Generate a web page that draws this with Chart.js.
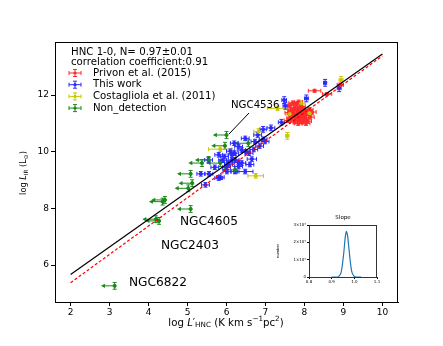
<!DOCTYPE html>
<html>
<head>
<meta charset="utf-8">
<script src="https://cdn.jsdelivr.net/npm/chart.js@4.4.1/dist/chart.umd.min.js"></script>
<style>
  body { margin: 0; background: #fff; }
  #wrap { position: relative; width: 443px; height: 346px; }
  #main { position: absolute; left: 0; top: 0; }
  #inset { position: absolute; left: 270px; top: 210px; }
</style>
</head>
<body>
<div id="wrap">
  <canvas id="main" width="443" height="346"></canvas>
  <canvas id="inset" width="115" height="80"></canvas>
</div>
<script>
"use strict"

// Privon et al. (2015)
const privonX = [8.26, 8.58, 8.92, 7.62, 7.70, 7.78, 7.85, 7.92, 7.68, 7.75, 7.82, 7.90, 7.98, 8.05, 7.72, 7.80, 7.88, 7.95, 8.02, 8.10, 8.15, 7.65, 7.78, 7.86, 7.94, 8.00, 8.08, 7.60, 7.74, 7.84, 8.18, 7.96, 7.70, 8.12, 7.88, 7.58, 8.04];
const privonY = [12.15, 12.04, 12.36, 11.62, 11.72, 11.68, 11.75, 11.60, 11.48, 11.52, 11.45, 11.40, 11.50, 11.42, 11.35, 11.30, 11.25, 11.32, 11.28, 11.35, 11.22, 11.20, 11.15, 11.10, 11.05, 11.15, 11.08, 11.38, 11.05, 11.00, 11.40, 11.18, 11.25, 11.48, 11.55, 11.10, 11.00];
const privonXerr = [0.16, 0.12, 0.08, 0.1, 0.1, 0.12, 0.1, 0.1, 0.1, 0.12, 0.1, 0.1, 0.12, 0.1, 0.1, 0.1, 0.12, 0.1, 0.1, 0.12, 0.1, 0.1, 0.1, 0.1, 0.12, 0.1, 0.1, 0.1, 0.1, 0.1, 0.12, 0.1, 0.1, 0.1, 0.1, 0.1, 0.1];
const privonYerr = [0.05, 0.05, 0.06, 0.07, 0.07, 0.07, 0.07, 0.07, 0.07, 0.07, 0.07, 0.07, 0.07, 0.07, 0.07, 0.07, 0.07, 0.07, 0.07, 0.07, 0.07, 0.07, 0.07, 0.07, 0.07, 0.07, 0.07, 0.07, 0.07, 0.07, 0.07, 0.07, 0.07, 0.07, 0.07, 0.07, 0.07];

// This work
const thisX = [8.53, 8.89, 7.48, 7.51, 8.05, 7.41, 6.94, 7.14, 6.80, 6.48, 6.94, 6.73, 6.99, 6.31, 6.39, 5.95, 6.21, 5.80, 6.14, 6.22, 6.05, 6.31, 6.65, 6.39, 6.31, 6.05, 5.34, 5.55, 5.80, 6.01, 6.22, 6.48, 6.14, 5.46, 5.84, 5.54, 6.58, 6.50, 6.10, 5.90, 6.00, 6.60, 5.70, 6.20, 6.85, 6.70];
const thisY = [12.43, 12.24, 11.82, 11.62, 11.88, 11.04, 10.79, 10.84, 10.59, 10.47, 10.44, 10.36, 10.36, 10.18, 10.06, 9.83, 9.95, 9.89, 9.89, 9.71, 9.60, 9.62, 9.74, 9.60, 9.48, 9.54, 9.22, 9.22, 9.07, 9.30, 9.30, 9.30, 9.71, 8.83, 9.10, 9.71, 9.95, 10.00, 10.02, 9.70, 9.45, 9.55, 9.45, 10.30, 10.20, 10.08];
const thisXerr = [0.04, 0.05, 0.06, 0.06, 0.05, 0.08, 0.08, 0.1, 0.1, 0.1, 0.1, 0.1, 0.1, 0.1, 0.1, 0.1, 0.1, 0.1, 0.1, 0.1, 0.1, 0.1, 0.12, 0.1, 0.1, 0.1, 0.1, 0.1, 0.1, 0.1, 0.1, 0.2, 0.1, 0.1, 0.1, 0.1, 0.1, 0.1, 0.1, 0.1, 0.1, 0.1, 0.1, 0.1, 0.1, 0.1];
const thisYerr = [0.12, 0.12, 0.12, 0.12, 0.12, 0.1, 0.1, 0.1, 0.08, 0.08, 0.08, 0.08, 0.08, 0.08, 0.08, 0.08, 0.08, 0.08, 0.08, 0.08, 0.08, 0.08, 0.08, 0.08, 0.08, 0.08, 0.08, 0.08, 0.08, 0.08, 0.08, 0.08, 0.08, 0.08, 0.08, 0.08, 0.08, 0.08, 0.08, 0.08, 0.08, 0.08, 0.08, 0.08, 0.08, 0.08];

// Costagliola et al. (2011)
const costX = [8.94, 7.31, 7.56, 7.92, 7.62, 8.13, 6.82, 6.75, 5.84];
const costY = [12.53, 11.53, 10.56, 11.71, 11.33, 11.36, 10.71, 9.15, 10.09];
const costXerr = [0.05, 0.25, 0.04, 0.1, 0.1, 0.1, 0.12, 0.2, 0.3];
const costYerr = [0.12, 0.08, 0.12, 0.08, 0.08, 0.08, 0.1, 0.08, 0.08];

// Non_detection (upper limits in x)
const nonX = [6.00, 5.96, 6.56, 5.54, 5.37, 5.84, 6.22, 5.08, 5.12, 5.02, 4.42, 4.36, 5.08, 4.19, 4.27, 3.13];
const nonY = [10.59, 10.21, 10.30, 9.71, 9.60, 9.60, 9.36, 9.22, 8.89, 8.71, 8.30, 8.24, 7.98, 7.62, 7.56, 5.27];
const nonYerr = [0.12, 0.12, 0.12, 0.12, 0.12, 0.12, 0.12, 0.12, 0.12, 0.12, 0.12, 0.12, 0.12, 0.12, 0.12, 0.12];

// fitted line and slope-one line
const fitX = [2, 10];
const fitY = [5.67, 13.45];
const refY = [5.38, 13.38];

const xTicks = [2, 3, 4, 5, 6, 7, 8, 9, 10];
const yTicks = [6, 8, 10, 12];

// inset histogram of the slope
const slopeX = [0.90, 0.92, 0.93, 0.94, 0.945, 0.95, 0.955, 0.96, 0.965, 0.97, 0.975, 0.98, 0.985, 0.99, 1.00, 1.01, 1.03];
const slopeN = [0, 0, 2000, 20000, 50000, 100000, 160000, 230000, 262000, 240000, 180000, 115000, 60000, 25000, 3000, 0, 0];
const slopeXTicks = [0.8, 0.9, 1.0, 1.1];
const slopeYTicks = [0, 100000, 200000, 300000];
const slopeYLabels = ["0", "1\u00d710\u2075", "2\u00d710\u2075", "3\u00d710\u2075"];

const headerLines = ["HNC 1-0, N= 0.97\u00b10.01", "correlation coefficient:0.91"];
const seriesNames = ["Privon et al. (2015)", "This work", "Costagliola et al. (2011)", "Non_detection"];
const seriesColors = ["#ff2a2a", "#2a2aff", "#c8c800", "#1a8a1a"];

const FONT = "'DejaVu Sans', sans-serif";
const ARROW_LEN = 0.35;

function toPoints(xs, ys) {
  return xs.map((x, i) => ({ x: x, y: ys[i] }));
}

function drawRich(ctx, parts, cx, cy) {
  let w = 0;
  parts.forEach(p => { ctx.font = p.font; w += ctx.measureText(p.t).width; });
  let x = cx - w / 2;
  parts.forEach(p => {
    ctx.font = p.font;
    ctx.fillText(p.t, x, cy + (p.dy || 0));
    x += ctx.measureText(p.t).width;
  });
}

function errCross(ctx, px, py, x0, x1, y0, y1) {
  const c = 2;
  ctx.beginPath();
  ctx.moveTo(x0, py); ctx.lineTo(x1, py);
  ctx.moveTo(x0, py - c); ctx.lineTo(x0, py + c);
  ctx.moveTo(x1, py - c); ctx.lineTo(x1, py + c);
  ctx.moveTo(px, y0); ctx.lineTo(px, y1);
  ctx.moveTo(px - c, y0); ctx.lineTo(px + c, y0);
  ctx.moveTo(px - c, y1); ctx.lineTo(px + c, y1);
  ctx.stroke();
}

const errorBars = {
  id: 'errorBars',
  beforeDatasetsDraw(chart) {
    const { ctx, chartArea, scales: { x, y } } = chart;
    ctx.save();
    ctx.beginPath();
    ctx.rect(chartArea.left, chartArea.top, chartArea.width, chartArea.height);
    ctx.clip();
    ctx.lineWidth = 1;
    chart.data.datasets.forEach(ds => {
      if (!ds.yerr) return;
      ctx.strokeStyle = ds.borderColor;
      ctx.fillStyle = ds.borderColor;
      ds.data.forEach((p, i) => {
        const px = x.getPixelForValue(p.x);
        const py = y.getPixelForValue(p.y);
        const y0 = y.getPixelForValue(p.y - ds.yerr[i]);
        const y1 = y.getPixelForValue(p.y + ds.yerr[i]);
        if (ds.upperLimit) {
          const xa = x.getPixelForValue(p.x - ARROW_LEN);
          errCross(ctx, px, py, px, px, y0, y1);
          ctx.beginPath();
          ctx.moveTo(px, py); ctx.lineTo(xa + 3, py);
          ctx.stroke();
          ctx.beginPath();
          ctx.moveTo(xa, py); ctx.lineTo(xa + 4, py - 2.2); ctx.lineTo(xa + 4, py + 2.2);
          ctx.closePath();
          ctx.fill();
        } else {
          const x0 = x.getPixelForValue(p.x - ds.xerr[i]);
          const x1 = x.getPixelForValue(p.x + ds.xerr[i]);
          errCross(ctx, px, py, x0, x1, y0, y1);
        }
      });
    });
    ctx.restore();
  }
};

const decorations = {
  id: 'decorations',
  afterDraw(chart) {
    const { ctx, chartArea } = chart;
    ctx.save();
    // frame
    ctx.strokeStyle = '#000';
    ctx.lineWidth = 1;
    ctx.strokeRect(chartArea.left + 0.5, chartArea.top + 0.5, chartArea.width - 1, chartArea.height);

    ctx.fillStyle = '#000';
    ctx.textBaseline = 'middle';
    ctx.textAlign = 'left';
    // legend header
    ctx.font = `10.2px ${FONT}`;
    ctx.fillText(headerLines[0], 71, 52);
    ctx.fillText(headerLines[1], 71, 62);
    // legend entries
    seriesNames.forEach((name, i) => {
      const ly = 73 + i * 11.7;
      ctx.strokeStyle = seriesColors[i];
      ctx.fillStyle = seriesColors[i];
      ctx.lineWidth = 1;
      errCross(ctx, 75, ly, 69, 81, ly - 3.5, ly + 3.5);
      ctx.beginPath();
      ctx.arc(75, ly, 1.6, 0, Math.PI * 2);
      ctx.fill();
      ctx.fillStyle = '#000';
      ctx.fillText(name, 93, ly);
    });

    // annotations
    ctx.font = `10.2px ${FONT}`;
    ctx.fillText("NGC4536", 231, 105);
    ctx.strokeStyle = '#000';
    ctx.lineWidth = 1;
    ctx.beginPath();
    ctx.moveTo(249, 113); ctx.lineTo(229, 134);
    ctx.stroke();
    ctx.font = `12.2px ${FONT}`;
    ctx.fillText("NGC4605", 180, 222);
    ctx.fillText("NGC2403", 161, 246);
    ctx.fillText("NGC6822", 129, 283);

    // axis titles
    ctx.textAlign = 'left';
    const big = `10.2px ${FONT}`;
    const bigIt = `italic 10.2px ${FONT}`;
    const small = `7.2px ${FONT}`;
    drawRich(ctx, [
      { t: "log ", font: big },
      { t: "L", font: bigIt },
      { t: "\u2032", font: big },
      { t: "HNC", font: small, dy: 2.5 },
      { t: " (K km s", font: big },
      { t: "\u22121", font: small, dy: -3.5 },
      { t: "pc", font: big },
      { t: "2", font: small, dy: -3.5 },
      { t: ")", font: big }
    ], 226, 323);
    const yBig = `8.2px ${FONT}`;
    const yBigIt = `italic 8.2px ${FONT}`;
    const ySmall = `5.8px ${FONT}`;
    ctx.translate(24, 173);
    ctx.rotate(-Math.PI / 2);
    drawRich(ctx, [
      { t: "log ", font: yBig },
      { t: "L", font: yBigIt },
      { t: "IR", font: ySmall, dy: 2 },
      { t: " (L", font: yBig },
      { t: "\u2299", font: ySmall, dy: 2 },
      { t: ")", font: yBig }
    ], 0, 0);
    ctx.restore();
  }
};

const tickFont = { family: FONT, size: 9 };

new Chart(document.getElementById('main'), {
  type: 'scatter',
  data: {
    datasets: [
      {
        label: seriesNames[3],
        data: toPoints(nonX, nonY),
        yerr: nonYerr,
        upperLimit: true,
        borderColor: seriesColors[3],
        backgroundColor: seriesColors[3],
        pointRadius: 1.6,
        order: 1
      },
      {
        label: seriesNames[2],
        data: toPoints(costX, costY),
        xerr: costXerr,
        yerr: costYerr,
        borderColor: seriesColors[2],
        backgroundColor: seriesColors[2],
        pointRadius: 1.6,
        order: 2
      },
      {
        label: seriesNames[1],
        data: toPoints(thisX, thisY),
        xerr: thisXerr,
        yerr: thisYerr,
        borderColor: seriesColors[1],
        backgroundColor: seriesColors[1],
        pointRadius: 1.6,
        order: 3
      },
      {
        label: seriesNames[0],
        data: toPoints(privonX, privonY),
        xerr: privonXerr,
        yerr: privonYerr,
        borderColor: seriesColors[0],
        backgroundColor: seriesColors[0],
        pointRadius: 1.6,
        order: 4
      },
      {
        label: 'fit',
        type: 'line',
        data: toPoints(fitX, fitY),
        borderColor: '#000',
        borderWidth: 1.2,
        pointRadius: 0,
        order: 0
      },
      {
        label: 'slope 1',
        type: 'line',
        data: toPoints(fitX, refY),
        borderColor: '#ff0000',
        borderWidth: 1.2,
        borderDash: [3, 2],
        pointRadius: 0,
        order: 0
      }
    ]
  },
  options: {
    responsive: false,
    animation: false,
    layout: { padding: { left: 0, right: 45, top: 42, bottom: 0 } },
    plugins: { legend: { display: false }, tooltip: { enabled: false } },
    scales: {
      x: {
        type: 'linear',
        min: 1.6,
        max: 10.4,
        afterBuildTicks: s => { s.ticks = xTicks.map(v => ({ value: v })); },
        afterFit: s => { s.height = 44; },
        ticks: { font: tickFont, color: '#000', padding: 1 },
        grid: { drawOnChartArea: false, tickLength: 4, tickColor: '#000' },
        border: { color: '#000' }
      },
      y: {
        type: 'linear',
        min: 4.7,
        max: 13.87,
        afterBuildTicks: s => { s.ticks = yTicks.map(v => ({ value: v })); },
        afterFit: s => { s.width = 55; },
        ticks: { font: tickFont, color: '#000', padding: 2 },
        grid: { drawOnChartArea: false, tickLength: 4, tickColor: '#000' },
        border: { color: '#000' }
      }
    }
  },
  plugins: [errorBars, decorations]
});

const insetDecor = {
  id: 'insetDecor',
  afterDraw(chart) {
    const { ctx, chartArea } = chart;
    ctx.save();
    ctx.strokeStyle = '#333';
    ctx.lineWidth = 1;
    ctx.strokeRect(chartArea.left + 0.5, chartArea.top + 0.5, chartArea.width - 1, chartArea.height);
    ctx.fillStyle = '#000';
    ctx.textAlign = 'center';
    ctx.textBaseline = 'middle';
    ctx.font = `5.5px ${FONT}`;
    ctx.fillText("Slope", (chartArea.left + chartArea.right) / 2, 8);
    ctx.font = `3.6px ${FONT}`;
    ctx.translate(8, (chartArea.top + chartArea.bottom) / 2);
    ctx.rotate(-Math.PI / 2);
    ctx.fillText("number", 0, 0);
    ctx.restore();
  }
};

const insetTickFont = { family: FONT, size: 4 };

new Chart(document.getElementById('inset'), {
  type: 'line',
  data: {
    datasets: [{
      data: toPoints(slopeX, slopeN),
      borderColor: '#1f77b4',
      borderWidth: 1.2,
      pointRadius: 0,
      tension: 0.3
    }]
  },
  options: {
    responsive: false,
    animation: false,
    layout: { padding: { left: 0, right: 8, top: 15, bottom: 0 } },
    plugins: { legend: { display: false }, tooltip: { enabled: false } },
    scales: {
      x: {
        type: 'linear',
        min: 0.8,
        max: 1.1,
        afterBuildTicks: s => { s.ticks = slopeXTicks.map(v => ({ value: v })); },
        afterFit: s => { s.height = 13; },
        ticks: { font: insetTickFont, color: '#000', padding: 1, callback: v => v.toFixed(1) },
        grid: { drawOnChartArea: false, tickLength: 2, tickColor: '#000' },
        border: { color: '#333' }
      },
      y: {
        type: 'linear',
        min: 0,
        max: 300000,
        afterBuildTicks: s => { s.ticks = slopeYTicks.map(v => ({ value: v })); },
        afterFit: s => { s.width = 39; },
        ticks: { font: insetTickFont, color: '#000', padding: 1, callback: (v, i) => slopeYLabels[i] },
        grid: { drawOnChartArea: false, tickLength: 2, tickColor: '#000' },
        border: { color: '#333' }
      }
    }
  },
  plugins: [insetDecor]
});
</script>
</body>
</html>
